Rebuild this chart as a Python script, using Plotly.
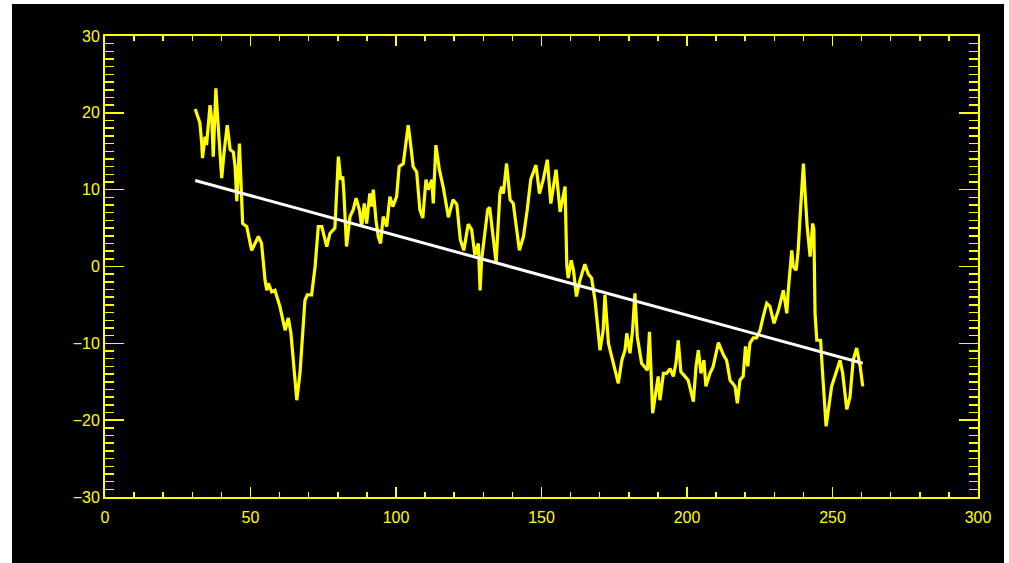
import plotly.graph_objects as go

# Yellow series
x_vals = [31.0, 32.6, 33.2, 33.5, 34.4, 34.9, 36.1, 36.7, 37.2, 38.1, 38.6, 39.4, 40.1, 40.9,
          42.0, 43.0, 44.1, 44.7, 45.3, 46.2, 46.6, 47.0, 47.3, 48.7, 50.4, 52.7, 53.8, 55.0,
          55.6, 56.1, 57.3, 58.4, 60.1, 61.9, 63.0, 63.9, 65.9, 67.0, 68.7, 69.5, 71.0, 72.2,
          73.3, 74.5, 76.2, 77.3, 79.0, 80.2, 81.0, 81.7, 82.1, 83.0, 84.2, 85.3, 86.3, 87.4,
          88.2, 89.1, 89.9, 91.0, 91.6, 92.2, 93.1, 93.9, 94.7, 95.6, 96.8, 97.9, 98.9, 100.2,
          101.1, 102.5, 104.2, 105.0, 105.9, 107.1, 108.2, 109.2, 110.3, 111.1, 112.3, 112.8,
          113.7, 114.9, 116.3, 118.0, 119.6, 120.9, 122.1, 123.3, 124.8, 126.0, 127.1, 128.3,
          128.9, 129.4, 130.6, 131.5, 132.2, 133.3, 134.4, 135.7, 136.3, 136.9, 138.0, 139.2,
          140.3, 142.4, 143.8, 145.1, 146.3, 148.1, 149.3, 150.6, 152.0, 153.2, 155.0, 156.4,
          158.1, 158.7, 159.2, 160.2, 161.0, 162.0, 163.2, 164.9, 166.1, 167.2, 168.4, 170.1,
          171.2, 171.8, 173.0, 174.7, 176.4, 177.6, 178.7, 179.3, 180.4, 181.3, 182.1, 182.9,
          184.4, 186.4, 187.1, 188.2, 190.1, 190.7, 191.9, 193.0, 194.2, 195.3, 196.2, 197.0,
          197.9, 199.3, 200.4, 202.2, 203.1, 203.9, 204.8, 205.8, 206.5, 207.9, 209.0, 210.8,
          212.5, 213.6, 214.8, 216.5, 217.3, 218.2, 219.3, 220.1, 220.9, 221.6, 222.8, 223.9,
          225.1, 226.2, 227.4, 228.5, 229.9, 231.4, 233.1, 234.3, 234.8, 236.0, 236.5, 237.5,
          238.2, 238.8, 239.4, 240.0, 240.5, 241.3, 242.3, 243.2, 243.6, 244.0, 244.6, 245.9,
          246.6, 247.8, 249.7, 251.4, 252.6, 253.5, 254.9, 256.0, 257.1, 258.3, 259.5, 260.4]
y_vals = [20.5, 18.7, 16.2, 14.1, 16.9, 15.8, 21.0, 19.1, 14.3, 23.2, 20.0, 15.6, 11.5, 14.8,
          18.4, 15.2, 14.9, 13.0, 8.5, 16.0, 12.6, 7.0, 5.6, 5.2, 2.1, 3.9, 3.0, -1.8,
          -3.1, -2.2, -3.3, -3.1, -5.2, -8.3, -6.7, -8.7, -17.4, -13.9, -4.4, -3.7, -3.7, 0.0,
          5.2, 5.2, 2.6, 4.3, 5.0, 14.3, 11.3, 11.7, 9.5, 2.6, 6.5, 7.4, 8.9, 7.4,
          5.2, 8.2, 5.6, 9.5, 7.8, 10.0, 6.1, 3.9, 3.0, 6.5, 5.2, 9.1, 7.8, 9.1,
          13.0, 13.4, 18.4, 16.0, 13.0, 12.3, 7.4, 6.3, 11.3, 10.0, 11.3, 8.2,
          15.8, 12.6, 10.2, 6.4, 8.7, 8.1, 3.5, 2.1, 5.5, 4.8, 1.5, 3.0,
          -3.1, 0.8, 4.8, 7.4, 7.7, 4.5, 0.5, 9.5, 10.4, 9.5, 13.4, 8.7,
          8.2, 2.1, 3.9, 7.4, 11.3, 13.2, 9.5, 11.3, 13.9, 8.2, 12.6, 7.1,
          10.4, 0.0, -1.5, 0.8, -0.5, -3.9, -1.8, 0.3, -1.0, -1.5, -4.4, -10.9,
          -8.3, -3.7, -10.0, -12.6, -15.2, -12.2, -10.9, -8.7, -11.3, -8.3, -3.5, -9.1,
          -12.6, -13.5, -8.5, -19.1, -14.3, -17.4, -13.9, -13.9, -13.3, -14.3, -12.6, -9.6,
          -13.7, -14.3, -14.8, -17.6, -13.0, -10.9, -13.9, -12.2, -15.6, -13.9, -13.0, -9.9,
          -11.5, -12.2, -14.8, -15.6, -17.8, -14.8, -14.3, -10.4, -13.0, -10.0, -9.3, -9.3,
          -8.3, -6.5, -4.8, -5.2, -7.4, -5.7, -3.1, -6.1, -3.1, 2.1, 0.0, -0.5,
          2.1, 6.1, 10.8, 13.4, 10.0, 5.2, 1.3, 5.6, 4.8, -6.1, -9.6, -9.6,
          -13.9, -20.8, -15.6, -13.5, -12.2, -13.9, -18.6, -17.0, -12.2, -10.6, -13.0, -15.6]

# White linear fit line endpoints
fit_x = [31.0, 260.4]
fit_y = [11.2, -12.6]

x_ticks = [0, 50, 100, 150, 200, 250, 300]
y_ticks = [-30, -20, -10, 0, 10, 20, 30]

YEL = "#ffff00"

fig = go.Figure()
fig.add_trace(go.Scatter(x=x_vals, y=y_vals, mode="lines",
                         line=dict(color=YEL, width=3.2), hoverinfo="skip"))
fig.add_trace(go.Scatter(x=fit_x, y=fit_y, mode="lines",
                         line=dict(color="#ffffff", width=3), hoverinfo="skip"))

W, H = 1009, 563
L, R, T, B = 105, 31, 36, 66
pw, ph = W - L - R, H - T - B

def px_to_paper_x(p):
    return (p - L) / pw

def py_to_paper_y(p):
    return (H - B - p) / ph

fig.add_shape(type="rect", xref="paper", yref="paper",
              x0=px_to_paper_x(12), x1=px_to_paper_x(1004),
              y0=py_to_paper_y(563), y1=py_to_paper_y(4),
              fillcolor="black", line=dict(width=0), layer="below")

axis_common = dict(showgrid=False, zeroline=False, showline=True, linecolor=YEL,
                   linewidth=2, mirror="ticks", ticks="inside", tickcolor=YEL,
                   tickwidth=1.5, tickfont=dict(color=YEL, size=16, family="Liberation Sans"))

fig.update_xaxes(range=[0, 300], tickvals=x_ticks, ticklen=10, ticklabelstandoff=5,
                 minor=dict(dtick=10, ticklen=5, tickcolor=YEL, ticks="inside", tickwidth=1.5),
                 **axis_common)
fig.update_yaxes(range=[-30, 30], tickvals=y_ticks, ticklen=19, ticklabelstandoff=0,
                 minor=dict(dtick=1, ticklen=9, tickcolor=YEL, ticks="inside", tickwidth=1.5),
                 **axis_common)

fig.update_layout(width=W, height=H, margin=dict(l=L, r=R, t=T, b=B, pad=0),
                  paper_bgcolor="white", plot_bgcolor="rgba(0,0,0,0)",
                  showlegend=False)

fig.write_html("out.html",
               config={"displayModeBar": False, "staticPlot": True},
               post_script="document.body.style.margin='0';document.body.style.overflow='hidden';")
